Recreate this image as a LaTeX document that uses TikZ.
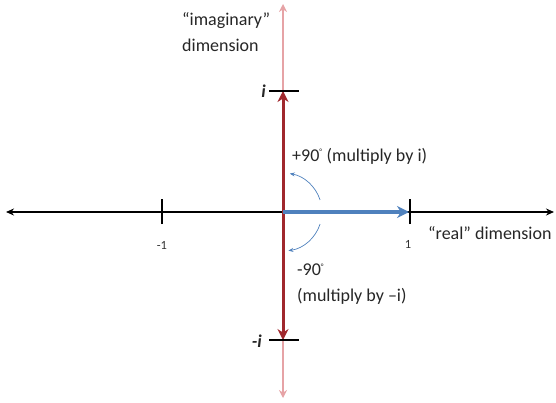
\documentclass[tikz,border=0pt]{standalone}
\usepackage{fontspec}
\setmainfont{Carlito}
\usetikzlibrary{arrows.meta}
\definecolor{pinkax}{HTML}{E6A3A6}
\definecolor{darkred}{HTML}{A0282D}
\definecolor{offblue}{HTML}{4F81BD}
\tikzset{
  axis/.style={line width=1.8pt, black, -{Stealth[length=8pt,width=7pt]}},
  imax/.style={line width=2.2pt, pinkax, -{Stealth[length=8pt,width=8pt]}},
  redarrow/.style={line width=3pt, darkred, -{Stealth[length=11pt,width=11pt]}},
  bluearrow/.style={line width=3.6pt, offblue, -{Stealth[length=12pt,width=12pt]}},
  turn/.style={line width=0.7pt, offblue, -{Stealth[length=5pt,width=4pt]}},
  tick/.style={line width=1.8pt, black},
  lbl/.style={font=\fontsize{18}{26}\selectfont, inner sep=0pt, text=black!85},
  small/.style={font=\fontsize{12.5}{14}\selectfont, inner sep=0pt, text=black!80}
}
\begin{document}
\begin{tikzpicture}[x=1pt,y=-1pt]
\useasboundingbox (0,0) rectangle (556,402);
\coordinate (O) at (283,212);
\coordinate (T) at (283,4);
\coordinate (B) at (283,398);
\coordinate (L) at (6,212);
\coordinate (R) at (554,212);
\coordinate (I) at (283,91);
\coordinate (NI) at (283,340);
\coordinate (One) at (410,212);
\coordinate (MOne) at (162,212);
% axes
\draw[imax] (O) -- (T);
\draw[imax] (O) -- (B);
\draw[axis] (O) -- (L);
\draw[axis] (O) -- (R);
% red arrows
\draw[redarrow] (O) -- (I);
\draw[redarrow] (O) -- (NI);
% ticks
\draw[tick] ([xshift=-14pt]I) -- ([xshift=16pt]I);
\draw[tick] ([xshift=-14pt]NI) -- ([xshift=16pt]NI);
\draw[tick] ([yshift=-12pt]MOne) -- ([yshift=13pt]MOne);
\draw[tick] ([yshift=-12pt]One) -- ([yshift=13pt]One);
% blue arrow
\draw[bluearrow] (O) -- ([xshift=-1pt]One);
% rotation arcs
\draw[turn] ([shift={(18:39)}]O) arc[start angle=18, end angle=82, radius=39];
\draw[turn] ([shift={(-18:39)}]O) arc[start angle=-18, end angle=-80, radius=39];
% labels
\node[lbl, anchor=west, align=left] (imlab) at (182,32) {“imaginary”\\dimension};
\node[lbl, anchor=east] (ilab) at (266,91) {\bfseries\itshape i};
\node[lbl, anchor=east] (nilab) at (262,341) {\bfseries\itshape -i};
\node[lbl, anchor=west] (plus) at (292,156) {+90\textsuperscript{\fontsize{8}{8}\selectfont °} (multiply by i)};
\node[lbl, anchor=west, align=left] (minus) at (297,284) {-90\textsuperscript{\fontsize{8}{8}\selectfont °}\\(multiply by –i)};
\node[lbl, anchor=west] (real) at (428,233) {“real” dimension};
\node[small] (m1lab) at (162,245) {-1};
\node[small] (p1lab) at (408,244) {1};
\end{tikzpicture}
\end{document}
